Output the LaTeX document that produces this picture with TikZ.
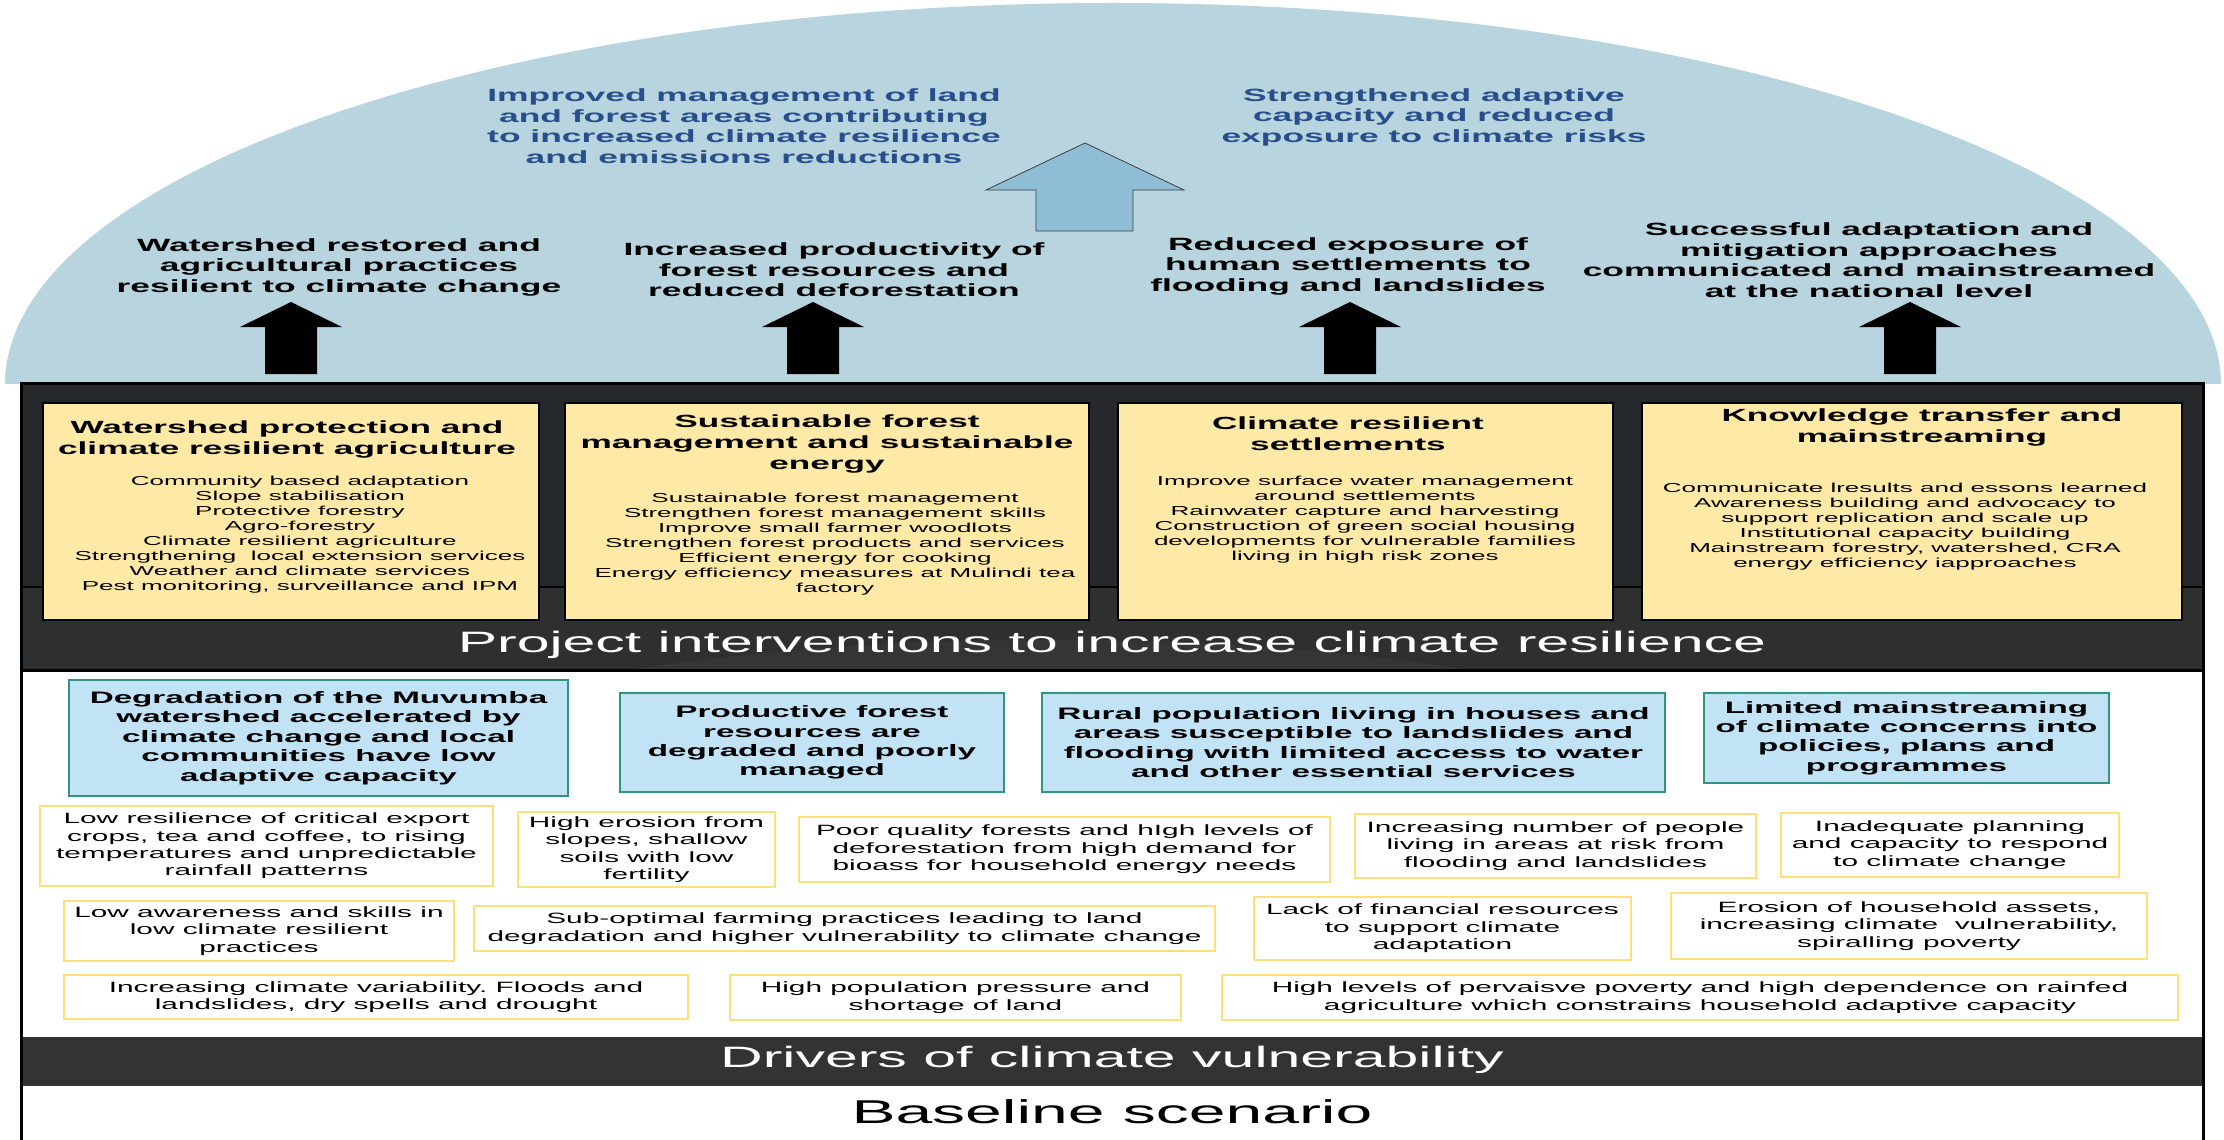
\documentclass[tikz,border=0pt]{standalone}
\usepackage{fontspec}
\setmainfont{Liberation Sans}[FakeStretch=2]
\usepackage{tikz}
\frenchspacing

\definecolor{sky}{RGB}{184,212,222}
\definecolor{goalblue}{RGB}{40,78,140}
\definecolor{arrowblue}{RGB}{142,189,213}
\definecolor{topdark}{RGB}{37,41,44}
\definecolor{banddark}{RGB}{45,47,49}
\definecolor{bandlight}{RGB}{52,53,54}
\definecolor{straw}{RGB}{255,233,166}
\definecolor{probfill}{RGB}{193,227,245}
\definecolor{probedge}{RGB}{46,150,128}
\definecolor{drvedge}{RGB}{255,223,122}
\definecolor{vulnband}{RGB}{51,51,51}

\tikzset{
  goal/.style={text=goalblue, align=center, font=\fontsize{17.7}{20.5}\selectfont\bfseries},
  outcome/.style={align=center, font=\fontsize{17.7}{20.5}\selectfont\bfseries},
  ibox/.style={draw=black, line width=1.5pt, fill=straw, inner sep=0pt},
  ititle/.style={align=center, font=\fontsize{17.6}{21}\selectfont\bfseries},
  ilist/.style={align=center, font=\fontsize{13}{15}\selectfont},
  pbox/.style={draw=probedge, line width=1.8pt, fill=probfill, align=center, inner sep=0pt,
    font=\fontsize{16.6}{19.4}\selectfont\bfseries},
  dbox/.style={draw=drvedge, line width=1.8pt, fill=white, align=center, inner sep=0pt,
    font=\fontsize{14.9}{17.4}\selectfont},
  bandtext/.style={text=white, font=\fontsize{29.5}{34}\selectfont},
}

\begin{document}
\begin{tikzpicture}[x=1pt,y=-1pt]

% Arrow sizes
\def\hw{51}
\def\sw{26}

\useasboundingbox (0,0) rectangle (2224,1140);

% Dome
\begin{scope}
\clip (0,0) rectangle (2224,383);
\fill[sky] (1113,385) ellipse [x radius=1108, y radius=382];
\end{scope}

% Goals
\node[goal] (g1) at (744,126) {Improved management of land\\and forest areas contributing\\to increased climate resilience\\and emissions reductions};
\node[goal] (g2) at (1434,117) {Strengthened adaptive\\capacity and reduced\\exposure to climate risks};

% Big arrow
\filldraw[fill=arrowblue, draw=black!75, line width=0.8pt] (1036,231) -- (1036,190) -- (986,190) -- (1085,143)
  -- (1184,190) -- (1133,190) -- (1133,231) -- cycle;

% Outcomes
\node[outcome] (o1) at (339,267) {Watershed restored and\\agricultural practices\\resilient to climate change};
\node[outcome] (o2) at (834,270) {Increased productivity of\\forest resources and\\reduced deforestation};
\node[outcome] (o3) at (1348,266) {Reduced exposure of\\human settlements to\\flooding and landslides};
\node[outcome] (o4) at (1869,260) {Successful adaptation and\\mitigation approaches\\communicated and mainstreamed\\at the national level};

% Black arrows
\foreach \x in {291,813,1350,1910}
  \fill (\x-\sw,374) -- (\x-\sw,327) -- (\x-\hw,327) -- (\x,302) -- (\x+\hw,327) -- (\x+\sw,327) -- (\x+\sw,374) -- cycle;

% Frame
\fill[topdark] (21,383) rectangle (2203,587);
\fill[banddark] (21,587) rectangle (2203,670);
\begin{scope}
\clip (21,587) rectangle (2203,670);
\fill[bandlight] (1050,790) ellipse [x radius=700, y radius=150];
\end{scope}
\fill[white] (21,670) rectangle (2203,1140);
\fill[vulnband] (21,1037) rectangle (2203,1086);
\draw[line width=1.5pt] (21,587) -- (2203,587);
\draw[line width=3pt] (21,670) -- (2203,670);
\draw[line width=3pt] (21,1150) -- (21,383) -- (2203,383) -- (2203,1150);

% Interventions
\node[ibox, minimum width=496pt, minimum height=217pt] (wp) at (291,511.5) {};
\node[ititle] (wpT) at (287,439) {Watershed protection and\\climate resilient agriculture};
\node[ilist] (wpL) at (300,534.5) {Community based adaptation\\Slope stabilisation\\Protective forestry\\Agro-forestry\\Climate resilient agriculture\\Strengthening\ \ local extension services\\Weather and climate services\\Pest monitoring, surveillance and IPM};

\node[ibox, minimum width=524pt, minimum height=217pt] (sf) at (827,511.5) {};
\node[ititle] (sfT) at (827,443.5) {Sustainable forest\\management and sustainable\\energy};
\node[ilist] (sfL) at (835,544.5) {Sustainable forest management\\Strengthen forest management skills\\Improve small farmer woodlots\\Strengthen forest products and services\\Efficient energy for cooking\\Energy efficiency measures at Mulindi tea\\factory};

\node[ibox, minimum width=495pt, minimum height=217pt] (cs) at (1365.5,511.5) {};
\node[ititle] (csT) at (1348,433.5) {Climate resilient\\settlements};
\node[ilist] (csL) at (1365,519.5) {Improve surface water management\\around settlements\\Rainwater capture and harvesting\\Construction of green social housing\\developments for vulnerable families\\living in high risk zones};

\node[ibox, minimum width=540pt, minimum height=217pt] (kt) at (1912,511.5) {};
\node[ititle] (ktT) at (1922,427) {Knowledge transfer and\\mainstreaming};
\node[ilist] (ktL) at (1905,526.5) {Communicate lresults and essons learned\\Awareness building and advocacy to\\support replication and scale up\\Institutional capacity building\\Mainstream forestry, watershed, CRA\\energy efficiency iapproaches};

\node[bandtext] (pi) at (1112,645) {Project interventions to increase climate resilience};

% Problems
\node[pbox, minimum width=499pt, minimum height=116pt] (pA) at (318.5,738) {Degradation of the Muvumba\\watershed accelerated by\\climate change and local\\communities have low\\adaptive capacity};
\node[pbox, minimum width=384pt, minimum height=99pt] (pB) at (812,742.5) {Productive forest\\resources are\\degraded and poorly\\managed};
\node[pbox, minimum width=623pt, minimum height=99pt] (pC) at (1353.5,742.5) {Rural population living in houses and\\areas susceptible to landslides and\\flooding with limited access to water\\and other essential services};
\node[pbox, minimum width=405pt, minimum height=90pt] (pD) at (1906.5,738) {Limited mainstreaming\\of climate concerns into\\policies, plans and\\programmes};

% Drivers
\node[dbox, minimum width=453pt, minimum height=80pt] (d1) at (266.5,846) {Low resilience of critical export\\crops, tea and coffee, to rising\\temperatures and unpredictable\\rainfall patterns};
\node[dbox, minimum width=257pt, minimum height=75pt] (d2) at (646.5,849.5) {High erosion from\\slopes, shallow\\soils with low\\fertility};
\node[dbox, minimum width=531pt, minimum height=65pt] (d3) at (1064.5,849.5) {Poor quality forests and hIgh levels of\\deforestation from high demand for\\bioass for household energy needs};
\node[dbox, minimum width=401pt, minimum height=64pt] (d4) at (1555.5,846) {Increasing number of people\\living in areas at risk from\\flooding and landslides};
\node[dbox, minimum width=338pt, minimum height=64pt] (d5) at (1950,845) {Inadequate planning\\and capacity to respond\\to climate change};

\node[dbox, minimum width=390pt, minimum height=60pt] (e1) at (259,931) {Low awareness and skills in\\low climate resilient\\practices};
\node[dbox, minimum width=741pt, minimum height=45pt] (e2) at (844.5,928.5) {Sub-optimal farming practices leading to land\\degradation and higher vulnerability to climate change};
\node[dbox, minimum width=377pt, minimum height=63pt] (e3) at (1442.5,928.5) {Lack of financial resources\\to support climate\\adaptation};
\node[dbox, minimum width=476pt, minimum height=66pt] (e4) at (1909,926) {Erosion of household assets,\\increasing climate\ \ vulnerability,\\spiralling poverty};

\node[dbox, minimum width=624pt, minimum height=44pt] (f1) at (376,997) {Increasing climate variability. Floods and\\landslides, dry spells and drought};
\node[dbox, minimum width=451pt, minimum height=45pt] (f2) at (955.5,997.5) {High population pressure and\\shortage of land};
\node[dbox, minimum width=956pt, minimum height=45pt] (f3) at (1700,997.5) {High levels of pervaisve poverty and high dependence on rainfed\\agriculture which constrains household adaptive capacity};

\node[bandtext] (dv) at (1112,1060) {Drivers of climate vulnerability};
\node[font=\fontsize{33}{38}\selectfont] (bs) at (1112,1112) {Baseline scenario};

\end{tikzpicture}
\end{document}
